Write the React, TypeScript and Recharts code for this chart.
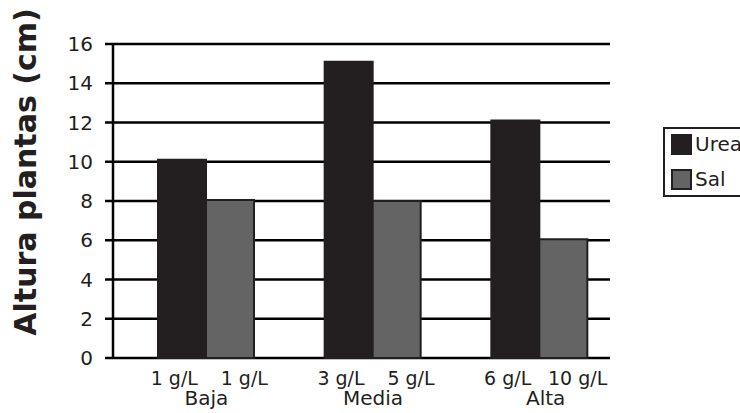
import { BarChart, Bar, XAxis, YAxis, CartesianGrid } from "recharts";

const categories = ["Baja", "Media", "Alta"];
const ureaValues = [10.1, 15.1, 12.1];
const salValues = [8.05, 8.0, 6.05];
const ureaDoses = ["1 g/L", "3 g/L", "6 g/L"];
const salDoses = ["1 g/L", "5 g/L", "10 g/L"];
const yTicks = [0, 2, 4, 6, 8, 10, 12, 14, 16];
const seriesNames = ["Urea", "Sal"];

const FONT = "'DejaVu Sans', Verdana, sans-serif";
const INK = "#231f20";
const GREY = "#646464";
const seriesFills = [INK, GREY];

const data = categories.map((name, i) => ({
  name,
  Urea: ureaValues[i],
  Sal: salValues[i],
}));

const CategoryTick = (props: any) => {
  const { x, y, index } = props;
  return (
    <g fontFamily={FONT} fill={INK}>
      <text x={x - 32} y={y + 27} textAnchor="middle" fontSize={19}>
        {ureaDoses[index]}
      </text>
      <text x={x + 38} y={y + 27} textAnchor="middle" fontSize={19}>
        {salDoses[index]}
      </text>
      <text x={x + (index === 2 ? 6 : 0)} y={y + 47} textAnchor="middle" fontSize={20}>
        {categories[index]}
      </text>
    </g>
  );
};

const LegendBox = () => (
  <div
    style={{
      position: "absolute",
      left: 663,
      top: 127,
      border: `2px solid ${INK}`,
      width: 90,
      padding: "3px 0 4px 6px",
      fontFamily: FONT,
      fontSize: 20,
      color: INK,
      background: "white",
    }}
  >
    {seriesNames.map((label, i) => (
      <div
        key={label}
        style={{ display: "flex", alignItems: "center", height: 24, marginTop: i ? 11 : 0 }}
      >
        <span
          style={{
            display: "inline-block",
            width: 17,
            height: 17,
            background: seriesFills[i],
            border: `2px solid ${INK}`,
            marginRight: 3,
          }}
        />
        <span>{label}</span>
      </div>
    ))}
  </div>
);

export default function App() {
  return (
    <div
      style={{
        position: "absolute",
        left: 0,
        top: 0,
        width: 740,
        height: 413,
        background: "white",
        overflow: "hidden",
      }}
    >
      <BarChart
        width={740}
        height={413}
        data={data}
        margin={{ top: 44, right: 117, bottom: 0, left: 0 }}
        barGap={0}
        barSize={48}
      >
        <CartesianGrid vertical={false} stroke="#000" strokeWidth={2.5} x={113} width={497} />
        <XAxis
          xAxisId="frame"
          type="number"
          domain={[0, 3]}
          ticks={[0, 1, 2, 3]}
          allowDataOverflow
          padding={{ left: 0, right: 13 }}
          height={0}
          tickSize={8}
          tickFormatter={() => ""}
          axisLine={{ stroke: "#000", strokeWidth: 2.5 }}
          tickLine={{ stroke: "#000", strokeWidth: 2.5 }}
        />
        <XAxis
          dataKey="name"
          padding={{ left: 10, right: 0 }}
          height={55}
          axisLine={false}
          tickLine={false}
          tickSize={0}
          tickMargin={0}
          interval={0}
          tick={<CategoryTick />}
        />
        <YAxis
          width={113}
          domain={[0, 16]}
          ticks={yTicks}
          interval={0}
          tickSize={8}
          tickMargin={12}
          axisLine={{ stroke: "#000", strokeWidth: 2.5 }}
          tickLine={{ stroke: "#000", strokeWidth: 2.5 }}
          tick={{ fontFamily: FONT, fontSize: 20, fill: INK }}
          label={() => (
            <text
              x={36}
              y={172}
              transform="rotate(-90, 36, 172)"
              textAnchor="middle"
              fontFamily={FONT}
              fontWeight="bold"
              fontSize={30}
              fill={INK}
            >
              Altura plantas (cm)
            </text>
          )}
        />
        <Bar dataKey="Urea" fill={INK} stroke={INK} strokeWidth={2} isAnimationActive={false} />
        <Bar dataKey="Sal" fill={GREY} stroke={INK} strokeWidth={2} isAnimationActive={false} />
      </BarChart>
      <LegendBox />
    </div>
  );
}
